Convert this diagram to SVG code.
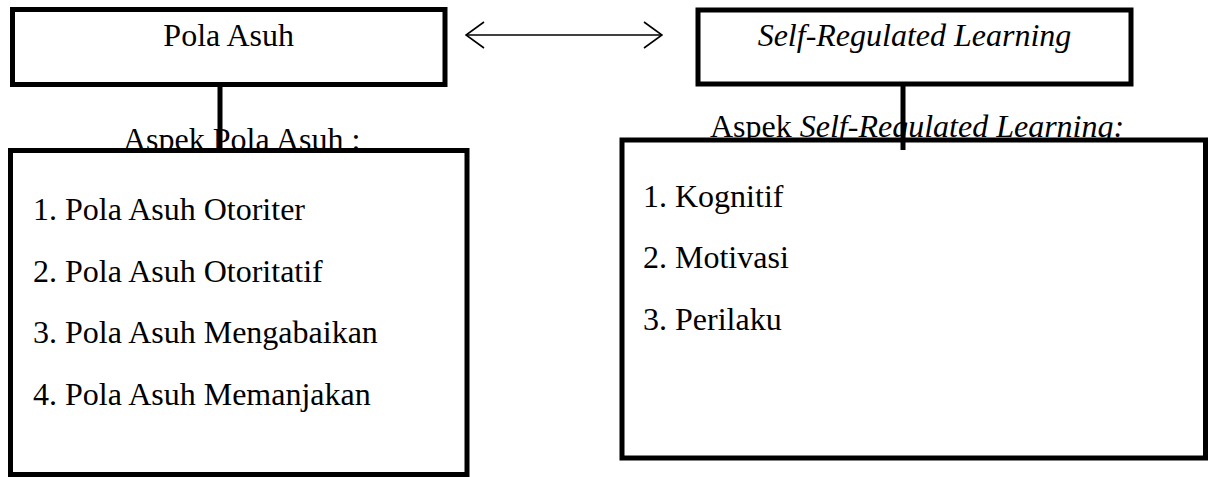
<svg xmlns="http://www.w3.org/2000/svg" width="1211" height="477" viewBox="0 0 1211 477">
<style>
.box{fill:#fff;stroke:#000;stroke-width:5}
.conn{stroke:#000;stroke-width:5;fill:none}
.arr{stroke:#000;stroke-width:1.6;fill:none}
text{font-family:"Liberation Serif","Times New Roman",serif;font-size:32px;fill:#000}
.it{font-style:italic}
</style>
<defs>
<marker id="chev" viewBox="0 0 20 30" refX="19" refY="15" markerWidth="20" markerHeight="30" markerUnits="userSpaceOnUse" orient="auto-start-reverse">
<path d="M1,2 L19,15 L1,28" fill="none" stroke="#000" stroke-width="1.6"/>
</marker>
</defs>
<g id="node-pola-asuh">
<rect class="box" x="12.5" y="9.5" width="432.5" height="75"/>
<text x="228.7" y="46" text-anchor="middle">Pola Asuh</text>
</g>
<g id="node-srl">
<rect class="box" x="698" y="10" width="433" height="74"/>
<text class="it" x="914.5" y="46" text-anchor="middle">Self-Regulated Learning</text>
</g>
<g id="node-aspek-pola-asuh">
<text x="123" y="150">Aspek Pola Asuh :</text>
<rect class="box" x="10.5" y="150.5" width="456.5" height="324"/>
<text x="33" y="220">1. Pola Asuh Otoriter</text>
<text x="33" y="282">2. Pola Asuh Otoritatif</text>
<text x="33" y="343">3. Pola Asuh Mengabaikan</text>
<text x="33" y="405">4. Pola Asuh Memanjakan</text>
</g>
<g id="node-aspek-srl">
<text x="710" y="137">Aspek <tspan class="it">Self-Regulated Learning:</tspan></text>
<rect class="box" x="622" y="140" width="583.5" height="318"/>
<text x="643" y="207">1. Kognitif</text>
<text x="643" y="268">2. Motivasi</text>
<text x="643" y="330">3. Perilaku</text>
</g>
<g id="connectors">
<line class="conn" x1="220" y1="85" x2="220" y2="152"/>
<line class="conn" x1="903" y1="84" x2="903" y2="150"/>
<line class="arr" x1="466" y1="35" x2="662" y2="35" marker-start="url(#chev)" marker-end="url(#chev)"/>
</g>
</svg>
